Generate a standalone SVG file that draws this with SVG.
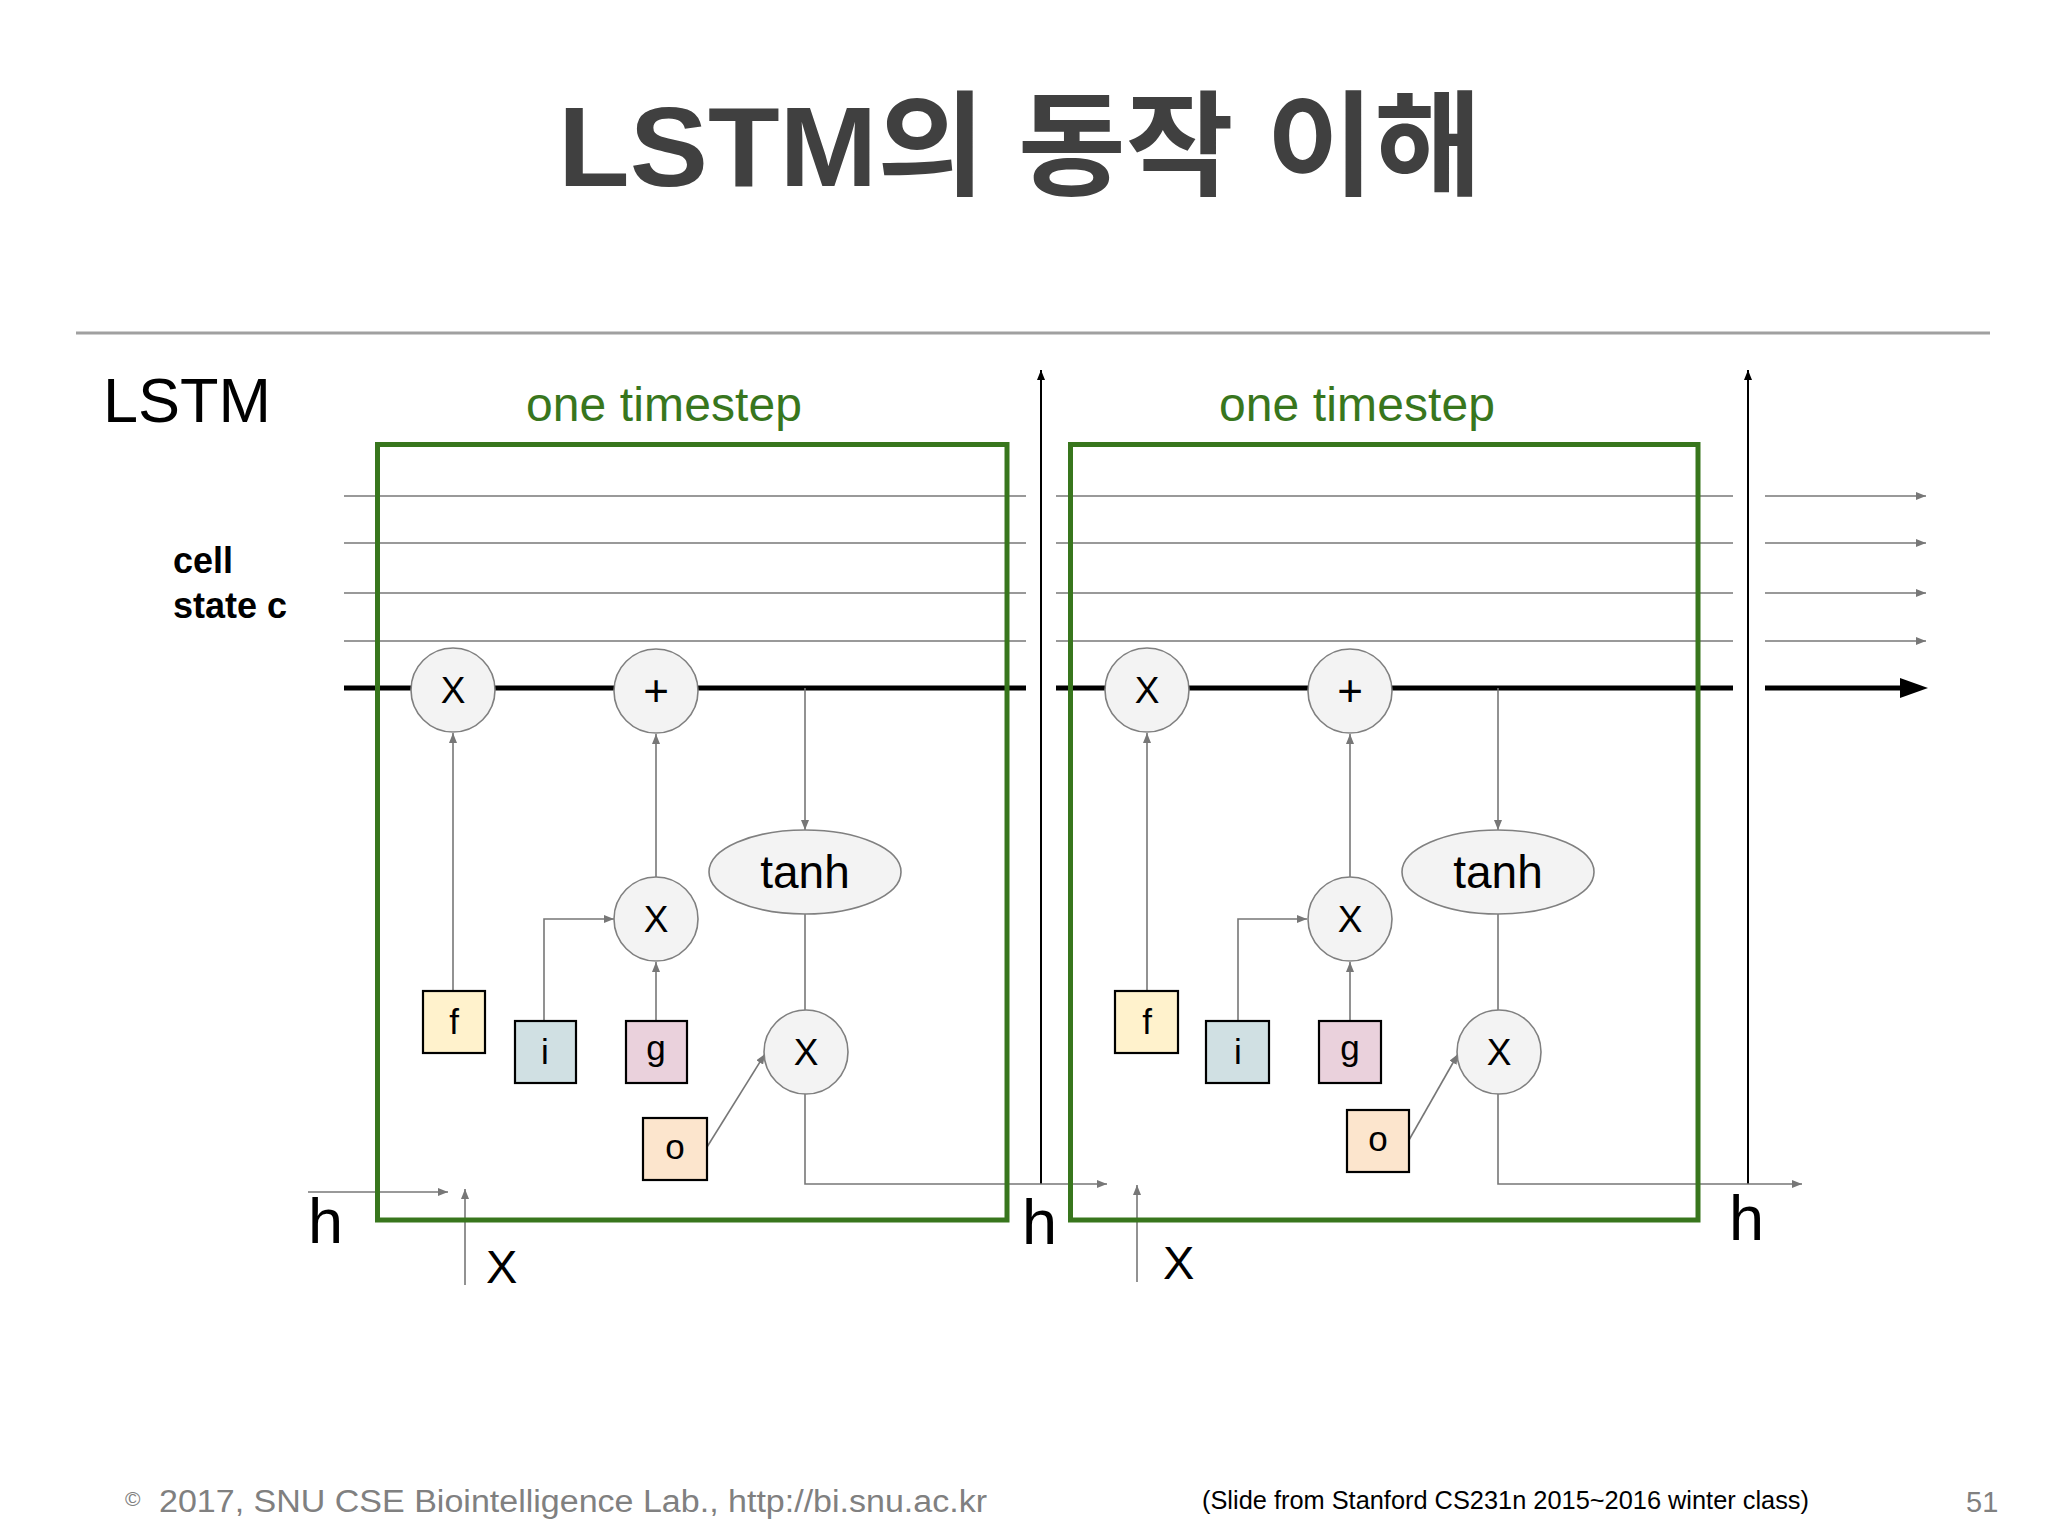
<svg xmlns="http://www.w3.org/2000/svg" width="2048" height="1536" viewBox="0 0 2048 1536">
<defs>
<style>
.grn{fill:none;stroke:#38761d;stroke-width:5}
.gl{stroke:#999;stroke-width:2;fill:none}
.tk{stroke:#000;stroke-width:5;fill:none}
.cn{stroke:#777;stroke-width:1.6;fill:none}
.vb{stroke:#000;stroke-width:2;fill:none}
.op{fill:#f3f3f3;stroke:#808080;stroke-width:1.6}
.bx{stroke:#000;stroke-width:2.2}
.t{font-family:"Liberation Sans",Arial,sans-serif;fill:#000}
.c{text-anchor:middle}
.ts{font-family:"Liberation Sans",Arial,sans-serif;fill:#38761d;font-size:48px}
</style>
<marker id="ag" viewBox="0 0 10 8" refX="10" refY="4" markerWidth="10" markerHeight="8" markerUnits="userSpaceOnUse" orient="auto"><path d="M0,0L10,4L0,8z" fill="#777"/></marker>
<marker id="ab" viewBox="0 0 10 8" refX="10" refY="4" markerWidth="10" markerHeight="8" markerUnits="userSpaceOnUse" orient="auto"><path d="M0,0L10,4L0,8z" fill="#000"/></marker>
</defs>
<rect width="2048" height="1536" fill="#fff"/>
<g id="title"><text x="558" y="186" textLength="924" lengthAdjust="spacingAndGlyphs" style="font-family:'Liberation Sans','Noto Sans CJK KR',sans-serif;font-weight:bold;font-size:114px;fill:#404040">LSTM의 동작 이해</text></g>
<line x1="76" y1="333" x2="1990" y2="333" stroke="#a0a0a0" stroke-width="3"/>
<g id="labels">
<text class="t" x="103" y="422" style="font-size:63px">LSTM</text>
<text class="t" x="173" y="573" style="font-size:36px;font-weight:bold">cell</text>
<text class="t" x="173" y="618" style="font-size:36px;font-weight:bold">state c</text>
<text class="ts" x="526" y="421" textLength="276">one timestep</text>
<text class="ts" x="1219" y="421" textLength="276">one timestep</text>
<text class="t" x="308" y="1243" style="font-size:63px">h</text>
<text class="t" x="1022" y="1244" style="font-size:63px">h</text>
<text class="t" x="1729" y="1240" style="font-size:63px">h</text>
<text class="t" x="486" y="1283" style="font-size:47px">X</text>
<text class="t" x="1163" y="1279" style="font-size:47px">X</text>
</g>
<g id="connectors">
<line class="gl" x1="344" y1="496" x2="1026" y2="496"/>
<line class="gl" x1="344" y1="543" x2="1026" y2="543"/>
<line class="gl" x1="344" y1="593" x2="1026" y2="593"/>
<line class="gl" x1="344" y1="641" x2="1026" y2="641"/>
<line class="gl" x1="1056" y1="496" x2="1733" y2="496"/>
<line class="gl" x1="1056" y1="543" x2="1733" y2="543"/>
<line class="gl" x1="1056" y1="593" x2="1733" y2="593"/>
<line class="gl" x1="1056" y1="641" x2="1733" y2="641"/>
<line class="gl" x1="1765" y1="496" x2="1926" y2="496" marker-end="url(#ag)"/>
<line class="gl" x1="1765" y1="543" x2="1926" y2="543" marker-end="url(#ag)"/>
<line class="gl" x1="1765" y1="593" x2="1926" y2="593" marker-end="url(#ag)"/>
<line class="gl" x1="1765" y1="641" x2="1926" y2="641" marker-end="url(#ag)"/>
<line class="tk" x1="344" y1="688" x2="1026" y2="688"/>
<line class="tk" x1="1056" y1="688" x2="1733" y2="688"/>
<line class="tk" x1="1765" y1="688" x2="1904" y2="688"/>
<path d="M1900,678L1928,688L1900,698z" fill="#000"/>
<line class="vb" x1="1041" y1="1184" x2="1041" y2="370" marker-end="url(#ab)"/>
<line class="vb" x1="1748" y1="1184" x2="1748" y2="370" marker-end="url(#ab)"/>
<line class="cn" x1="453" y1="991" x2="453" y2="733" marker-end="url(#ag)"/>
<polyline class="cn" points="544,1021 544,919 614,919" marker-end="url(#ag)"/>
<line class="cn" x1="656" y1="1021" x2="656" y2="962" marker-end="url(#ag)"/>
<line class="cn" x1="656" y1="877" x2="656" y2="734" marker-end="url(#ag)"/>
<line class="cn" x1="805" y1="688" x2="805" y2="830" marker-end="url(#ag)"/>
<line class="cn" x1="805" y1="914" x2="805" y2="1010"/>
<line class="cn" x1="707" y1="1147" x2="765" y2="1054" marker-end="url(#ag)"/>
<polyline class="cn" points="805,1094 805,1184 1107,1184" marker-end="url(#ag)"/>
<line class="cn" x1="308" y1="1192" x2="448" y2="1192" marker-end="url(#ag)"/>
<line class="cn" x1="465" y1="1285" x2="465" y2="1189" marker-end="url(#ag)"/>
<line class="cn" x1="1147" y1="991" x2="1147" y2="733" marker-end="url(#ag)"/>
<polyline class="cn" points="1238,1021 1238,919 1307,919" marker-end="url(#ag)"/>
<line class="cn" x1="1350" y1="1021" x2="1350" y2="962" marker-end="url(#ag)"/>
<line class="cn" x1="1350" y1="877" x2="1350" y2="734" marker-end="url(#ag)"/>
<line class="cn" x1="1498" y1="688" x2="1498" y2="830" marker-end="url(#ag)"/>
<line class="cn" x1="1498" y1="914" x2="1498" y2="1010"/>
<line class="cn" x1="1409" y1="1140" x2="1458" y2="1054" marker-end="url(#ag)"/>
<polyline class="cn" points="1498,1094 1498,1184 1802,1184" marker-end="url(#ag)"/>
<line class="cn" x1="1137" y1="1282" x2="1137" y2="1185" marker-end="url(#ag)"/>
</g>
<g id="cell1"><rect class="grn" x="377.5" y="444.5" width="629.5" height="775.5"/></g>
<g id="cell2"><rect class="grn" x="1070.5" y="444.5" width="627.5" height="775.5"/></g>
<g id="c1-forget-mul"><circle class="op" cx="453" cy="690" r="42"/><text class="t c" x="453" y="703" style="font-size:37px">X</text></g>
<g id="c1-add"><circle class="op" cx="656" cy="691" r="42"/><text class="t c" x="656" y="706" style="font-size:44px">+</text></g>
<g id="c1-tanh"><ellipse class="op" cx="805" cy="872" rx="96" ry="42"/><text class="t c" x="805" y="888" style="font-size:46px">tanh</text></g>
<g id="c1-input-mul"><circle class="op" cx="656" cy="919" r="42"/><text class="t c" x="656" y="932" style="font-size:37px">X</text></g>
<g id="c1-output-mul"><circle class="op" cx="806" cy="1052" r="42"/><text class="t c" x="806" y="1065" style="font-size:37px">X</text></g>
<g id="c1-f"><rect class="bx" x="423" y="991" width="62" height="62" fill="#fff2cc"/><text class="t c" x="454" y="1034" style="font-size:35px">f</text></g>
<g id="c1-i"><rect class="bx" x="515" y="1021" width="61" height="62" fill="#d0e0e3"/><text class="t c" x="545" y="1064" style="font-size:35px">i</text></g>
<g id="c1-g"><rect class="bx" x="626" y="1021" width="61" height="62" fill="#ead1dc"/><text class="t c" x="656" y="1060" style="font-size:35px">g</text></g>
<g id="c1-o"><rect class="bx" x="643" y="1118" width="64" height="62" fill="#fce5cd"/><text class="t c" x="675" y="1159" style="font-size:35px">o</text></g>
<g id="c2-forget-mul"><circle class="op" cx="1147" cy="690" r="42"/><text class="t c" x="1147" y="703" style="font-size:37px">X</text></g>
<g id="c2-add"><circle class="op" cx="1350" cy="691" r="42"/><text class="t c" x="1350" y="706" style="font-size:44px">+</text></g>
<g id="c2-tanh"><ellipse class="op" cx="1498" cy="872" rx="96" ry="42"/><text class="t c" x="1498" y="888" style="font-size:46px">tanh</text></g>
<g id="c2-input-mul"><circle class="op" cx="1350" cy="919" r="42"/><text class="t c" x="1350" y="932" style="font-size:37px">X</text></g>
<g id="c2-output-mul"><circle class="op" cx="1499" cy="1052" r="42"/><text class="t c" x="1499" y="1065" style="font-size:37px">X</text></g>
<g id="c2-f"><rect class="bx" x="1115" y="991" width="63" height="62" fill="#fff2cc"/><text class="t c" x="1147" y="1034" style="font-size:35px">f</text></g>
<g id="c2-i"><rect class="bx" x="1206" y="1021" width="63" height="62" fill="#d0e0e3"/><text class="t c" x="1238" y="1064" style="font-size:35px">i</text></g>
<g id="c2-g"><rect class="bx" x="1319" y="1021" width="62" height="62" fill="#ead1dc"/><text class="t c" x="1350" y="1060" style="font-size:35px">g</text></g>
<g id="c2-o"><rect class="bx" x="1347" y="1110" width="62" height="62" fill="#fce5cd"/><text class="t c" x="1378" y="1151" style="font-size:35px">o</text></g>
<g id="footer">
<text x="125" y="1506" style="font-family:'Liberation Sans',Arial,sans-serif;font-size:21px;fill:#808080">©</text>
<text x="159" y="1512" textLength="828" lengthAdjust="spacingAndGlyphs" style="font-family:'Liberation Sans',Arial,sans-serif;font-size:31px;fill:#808080">2017, SNU CSE Biointelligence Lab., http://bi.snu.ac.kr</text>
<text x="1202" y="1509" textLength="607" lengthAdjust="spacingAndGlyphs" style="font-family:'Liberation Sans',Arial,sans-serif;font-size:26px;fill:#000">(Slide from Stanford CS231n 2015~2016 winter class)</text>
<text x="1966" y="1512" style="font-family:'Liberation Sans',Arial,sans-serif;font-size:29px;fill:#808080">51</text>
</g>
</svg>
